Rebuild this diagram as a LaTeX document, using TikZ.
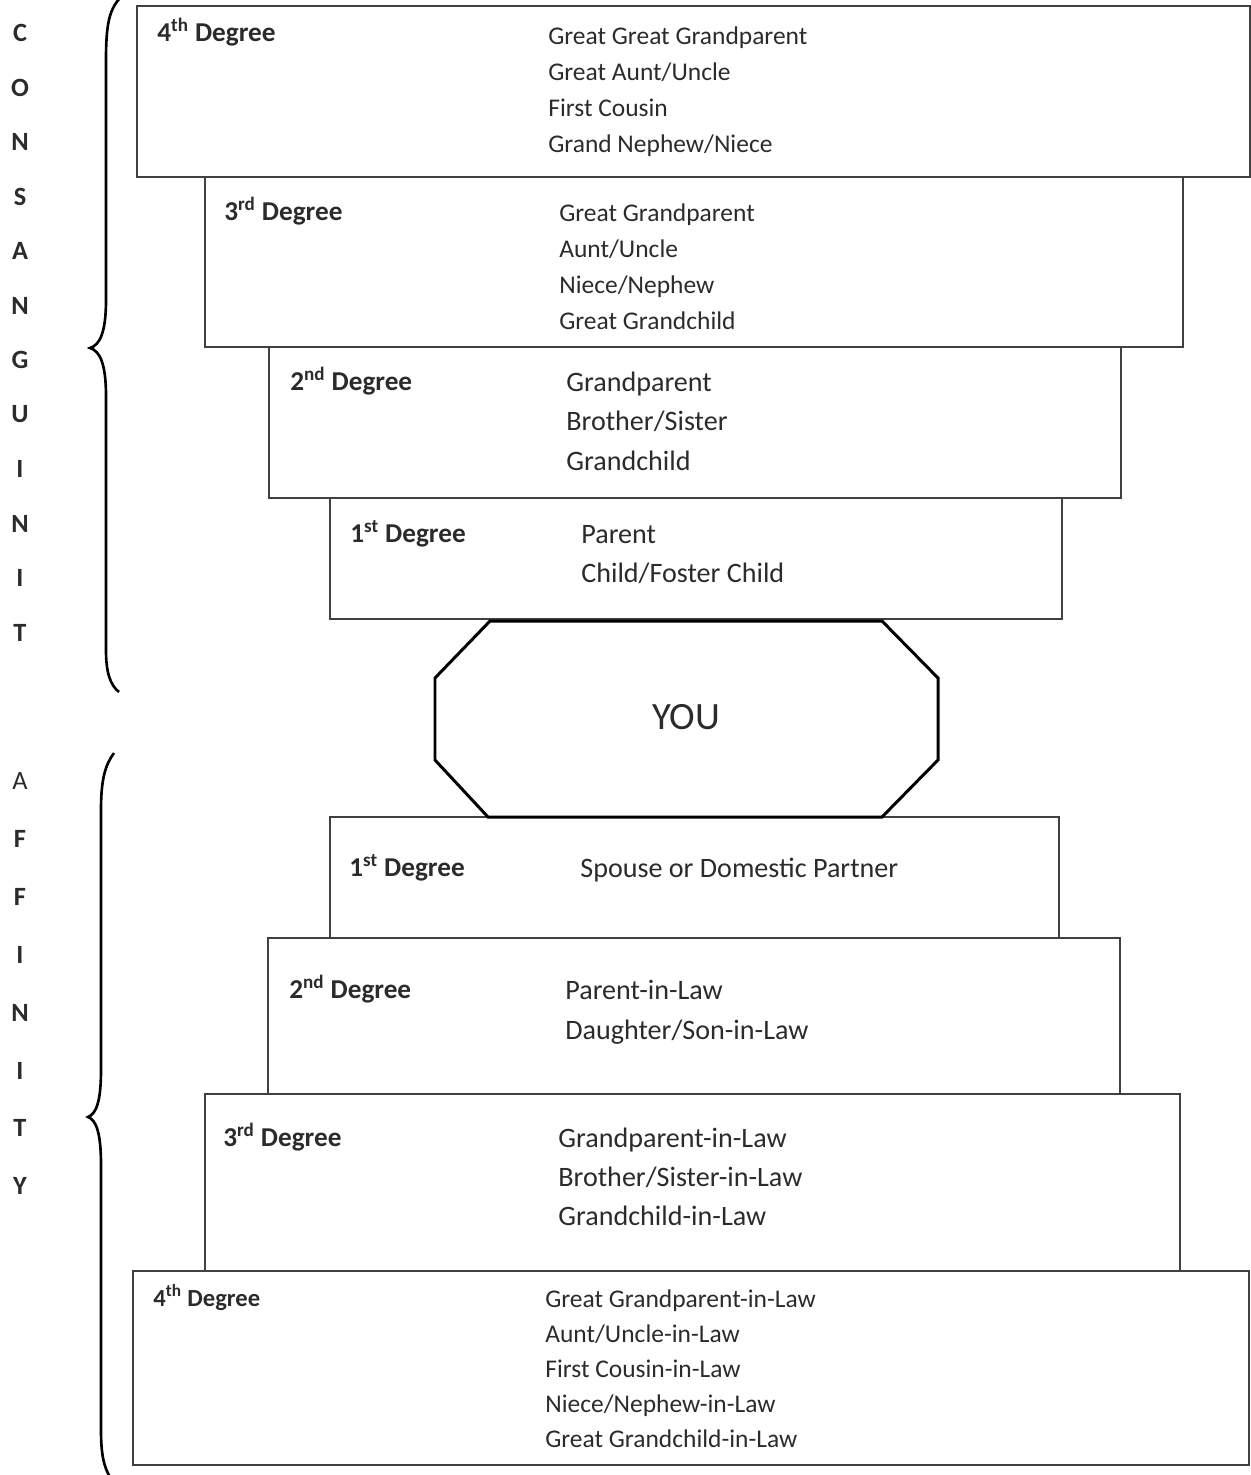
\documentclass[tikz,border=0pt]{standalone}
\usepackage{fontspec}
\setmainfont{Carlito}
\usetikzlibrary{positioning}

\definecolor{boxline}{HTML}{404040}
\definecolor{inktext}{HTML}{2B2B2B}

\begin{document}
\begin{tikzpicture}[x=0.02cm, y=-0.02cm,
    degbox/.style={draw=boxline, line width=1.1pt, inner sep=0pt, outer sep=0pt, anchor=north west},
    deghead/.style={anchor=base west, inner sep=0pt, text=inktext, font=\fontsize{15.5}{18}\selectfont\bfseries},
    rel/.style={anchor=base west, inner sep=0pt, text=inktext, font=\fontsize{14.5}{17}\selectfont},
    relbig/.style={rel, font=\fontsize{16}{19}\selectfont},
    sideletter/.style={inner sep=0pt, text=inktext, font=\fontsize{15}{18}\selectfont\bfseries},
    bracket/.style={line width=1.5pt, black}]
    \useasboundingbox (0,0) rectangle (1251,1475);

    % Consanguinity boxes (4th on top)
    \node[degbox, minimum width=22.26cm, minimum height=3.42cm] (cbox4) at (137,6) {};
    \node[degbox, minimum width=19.56cm, minimum height=3.40cm] (cbox3) at (205,177) {};
    \node[degbox, minimum width=17.04cm, minimum height=3.02cm] (cbox2) at (269,347) {};
    \node[degbox, minimum width=14.64cm, minimum height=2.42cm] (cbox1) at (330,498) {};

    % Affinity boxes (1st on top)
    \node[degbox, minimum width=14.58cm, minimum height=2.42cm] (abox1) at (330,817) {};
    \node[degbox, minimum width=17.04cm, minimum height=3.12cm] (abox2) at (268,938) {};
    \node[degbox, minimum width=19.50cm, minimum height=3.54cm] (abox3) at (205,1094) {};
    \node[degbox, minimum width=22.32cm, minimum height=3.88cm] (abox4) at (133,1271) {};

    % YOU
    \draw[line width=1.7pt] (490,621) -- (882,621) -- (938,678) -- (938,760)
        -- (882,817) -- (488,817) -- (435,760) -- (435,678) -- cycle;
    \node[inner sep=0pt, text=inktext, font=\fontsize{22}{26}\selectfont] (you) at (686,717) {YOU};

    % Headings
    \node[deghead] (chead4) at (157,41) {4\textsuperscript{th} Degree};
    \node[deghead] (chead3) at (224,220) {3\textsuperscript{rd} Degree};
    \node[deghead] (chead2) at (290,390) {2\textsuperscript{nd} Degree};
    \node[deghead] (chead1) at (350,542) {1\textsuperscript{st} Degree};
    \node[deghead] (ahead1) at (349,876) {1\textsuperscript{st} Degree};
    \node[deghead] (ahead2) at (289,998) {2\textsuperscript{nd} Degree};
    \node[deghead] (ahead3) at (223,1146) {3\textsuperscript{rd} Degree};
    \node[deghead, font=\fontsize{14}{17}\selectfont\bfseries] (ahead4) at (153,1306) {4\textsuperscript{th} Degree};

    % Relatives, consanguinity
    \foreach \t [count=\i] in {Great Great Grandparent, Great Aunt/Uncle, First Cousin, Grand Nephew/Niece}
        \node[rel] (c4-\i) at (548,{44+36*(\i-1)}) {\t};
    \foreach \t [count=\i] in {Great Grandparent, Aunt/Uncle, Niece/Nephew, Great Grandchild}
        \node[rel] (c3-\i) at (559,{221+36.3*(\i-1)}) {\t};
    \foreach \t [count=\i] in {Grandparent, Brother/Sister, Grandchild}
        \node[relbig] (c2-\i) at (566,{391+39.5*(\i-1)}) {\t};
    \foreach \t [count=\i] in {Parent, Child/Foster Child}
        \node[relbig] (c1-\i) at (581,{543+39*(\i-1)}) {\t};

    % Relatives, affinity
    \node[relbig] (a1-1) at (580,877) {Spouse or Domestic Partner};
    \foreach \t [count=\i] in {Parent-in-Law, Daughter/Son-in-Law}
        \node[relbig] (a2-\i) at (565,{999+40*(\i-1)}) {\t};
    \foreach \t [count=\i] in {Grandparent-in-Law, Brother/Sister-in-Law, Grandchild-in-Law}
        \node[relbig] (a3-\i) at (558,{1147+39*(\i-1)}) {\t};
    \foreach \t [count=\i] in {Great Grandparent-in-Law, Aunt/Uncle-in-Law, First Cousin-in-Law, Niece/Nephew-in-Law, Great Grandchild-in-Law}
        \node[rel] (a4-\i) at (545,{1307+35.2*(\i-1)}) {\t};

    % Side words
    \foreach \l [count=\i] in {C,O,N,S,A,N,G,U,I,N,I,T}
        \node[sideletter] (cl-\i) at (20,{33+54.5*(\i-1)}) {\l};
    \node[sideletter, font=\fontsize{15}{18}\selectfont] (al-1) at (20,781) {A};
    \foreach \l [count=\i from 2] in {F,F,I,N,I,T,Y}
        \node[sideletter] (al-\i) at (20,{781+57.9*(\i-1)}) {\l};

    % Braces
    \draw[bracket] (120,-2) .. controls (109,10) and (106,25) .. (106,60) -- (106,300)
        .. controls (106,332) and (100,345) .. (90,348)
        .. controls (100,351) and (106,364) .. (106,396) -- (106,650)
        .. controls (106,672) and (110,685) .. (119,692);
    \draw[bracket] (114,753) .. controls (105,765) and (101,780) .. (101,810) -- (101,1070)
        .. controls (101,1102) and (96,1114) .. (88,1117)
        .. controls (96,1120) and (101,1132) .. (101,1165) -- (101,1430)
        .. controls (101,1455) and (104,1467) .. (110,1477);
\end{tikzpicture}
\end{document}
